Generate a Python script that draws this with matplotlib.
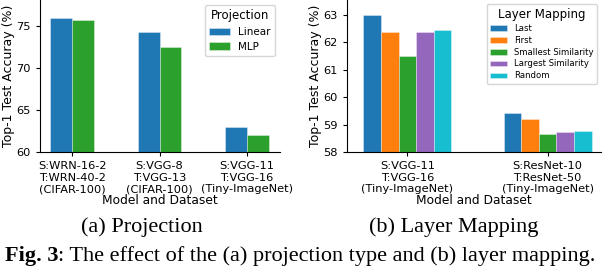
import numpy as np
import matplotlib.pyplot as plt

# (a) projection type
proj_groups = ["S:WRN-16-2\nT:WRN-40-2\n(CIFAR-100)",
               "S:VGG-8\nT:VGG-13\n(CIFAR-100)",
               "S:VGG-11\nT:VGG-16\n(Tiny-ImageNet)"]
proj_names = ["Linear", "MLP"]
proj_linear = [75.9, 74.3, 63.0]
proj_mlp = [75.7, 72.5, 62.0]

# (b) layer mapping
map_groups = ["S:VGG-11\nT:VGG-16\n(Tiny-ImageNet)",
              "S:ResNet-10\nT:ResNet-50\n(Tiny-ImageNet)"]
map_names = ["Last", "First", "Smallest Similarity", "Largest Similarity", "Random"]
map_last = [63.0, 59.43]
map_first = [62.38, 59.19]
map_smallest = [61.5, 58.65]
map_largest = [62.38, 58.74]
map_random = [62.47, 58.78]

W, H = 604, 272
fig = plt.figure(figsize=(W / 100, H / 100), dpi=100)
plt.rcParams["font.family"] = "DejaVu Sans"


def grouped(ax, series, names, colors, width):
    x = np.arange(len(series[0]))
    n = len(series)
    for i, (vals, name, c) in enumerate(zip(series, names, colors)):
        off = (i - (n - 1) / 2) * width
        ax.bar(x + off, vals, width, label=name, color=c,
               edgecolor=(1, 1, 1, 0.4), linewidth=0.6)
    return x


def style(ax):
    for s in ["top", "right"]:
        ax.spines[s].set_visible(False)
    ax.tick_params(labelsize=8.2, length=3)
    ax.set_xlabel("Model and Dataset", fontsize=8.8, labelpad=0)
    ax.set_ylabel("Top-1 Test Accuray (%)", fontsize=9, labelpad=1)


ax1 = fig.add_axes([40 / W, (H - 152) / H, 240 / W, 152 / H])
x1 = grouped(ax1, [proj_linear, proj_mlp], proj_names,
             ["#1f77b4", "#2ca02c"], 0.25)
ax1.set_xticks(x1)
ax1.set_xticklabels(proj_groups, linespacing=1.2)
ax1.set_ylim(60, 78.1)
ax1.set_yticks([60, 65, 70, 75])
ax1.set_xlim(-0.37, 2.38)
style(ax1)
ax1.legend(title="Projection", fontsize=7.5, title_fontsize=8.5,
           loc="upper right", bbox_to_anchor=(1.0, 1.0),
           handlelength=2.0, borderpad=0.4, labelspacing=0.45)

ax2 = fig.add_axes([347 / W, (H - 152) / H, 254 / W, 152 / H])
x2 = grouped(ax2, [map_last, map_first, map_smallest, map_largest, map_random],
             map_names,
             ["#1f77b4", "#ff7f0e", "#2ca02c", "#9467bd", "#17becf"], 0.125)
ax2.set_xticks(x2)
ax2.set_xticklabels(map_groups, linespacing=1.2)
ax2.set_ylim(58, 63.55)
ax2.set_yticks([58, 59, 60, 61, 62, 63])
ax2.set_xlim(-0.43, 1.38)
style(ax2)
ax2.legend(title="Layer Mapping", fontsize=6.1, title_fontsize=8.5,
           loc="upper right", bbox_to_anchor=(1.0, 1.0),
           handlelength=2.0, borderpad=0.4, labelspacing=0.35)

serif = "Liberation Serif"
fig.text(142 / W, 1 - 227 / H, "(a) Projection", family=serif,
         fontsize=16, ha="center", va="center")
fig.text(454 / W, 1 - 227 / H, "(b) Layer Mapping", family=serif,
         fontsize=16, ha="center", va="center")

# caption: bold "Fig. 3" followed by regular text
bold = fig.text(5 / W, 1 - 261 / H, "Fig. 3", family=serif, weight="bold",
                fontsize=16, ha="left", va="baseline")
fig.canvas.draw()
bb = bold.get_window_extent()
fig.text(bb.x1 / W, 1 - 261 / H,
         ": The effect of the (a) projection type and (b) layer mapping.",
         family=serif, fontsize=16, ha="left", va="baseline")

fig.savefig("out.png", dpi=100)
